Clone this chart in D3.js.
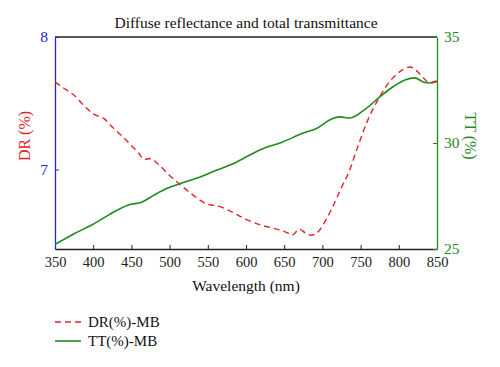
<!DOCTYPE html>
<html>
<head>
<meta charset="utf-8">
<script src="https://cdn.jsdelivr.net/npm/d3@7"></script>
<style>
  html, body { margin: 0; padding: 0; background: #fff; }
  svg text { font-family: "Liberation Serif", "DejaVu Serif", serif !important; }
</style>
</head>
<body>
<div id="chart"></div>
<script>
// ── Data ────────────────────────────────────────────────────────
const drWavelength = [350, 360, 375, 390, 400, 415, 425, 440, 450, 460, 467, 475, 485, 500, 515, 530, 550, 565, 580, 600, 620, 640, 655, 660, 670, 678, 685, 695, 705, 715, 725, 735, 745, 758, 775, 790, 805, 815, 822, 832, 840, 845, 850];
const drValues = [7.66, 7.62, 7.56, 7.47, 7.42, 7.38, 7.32, 7.24, 7.18, 7.12, 7.075, 7.083, 7.04, 6.955, 6.88, 6.81, 6.737, 6.722, 6.684, 6.624, 6.58, 6.55, 6.52, 6.504, 6.549, 6.52, 6.504, 6.534, 6.624, 6.737, 6.865, 6.985, 7.15, 7.353, 7.549, 7.677, 7.752, 7.774, 7.752, 7.692, 7.654, 7.66, 7.669];

const ttWavelength = [350, 360, 375, 398, 420, 446, 464, 480, 496, 516, 540, 562, 579, 605, 618, 648, 675, 693, 712, 723, 736, 758, 775, 792, 808, 821, 832, 841, 850];
const ttValues = [25.22, 25.42, 25.72, 26.13, 26.6, 27.08, 27.22, 27.55, 27.85, 28.11, 28.4, 28.73, 28.96, 29.43, 29.67, 30.05, 30.47, 30.7, 31.13, 31.23, 31.18, 31.65, 32.17, 32.64, 32.97, 33.07, 32.88, 32.83, 32.9];

const xTicks = [350, 400, 450, 500, 550, 600, 650, 700, 750, 800, 850];
const drTicks = [7, 8];
const ttTicks = [25, 30, 35];

const W = 500, H = 367;
const margin = { top: 37, right: 63, bottom: 118, left: 55 };
const w = W - margin.left - margin.right;
const h = H - margin.top - margin.bottom;

const RED = '#e0252b', GREEN = '#1f8a1f', BLUE = '#2323d8';

const svg = d3.select('#chart').append('svg')
    .attr('width', W).attr('height', H);

const g = svg.append('g')
    .attr('transform', `translate(${margin.left},${margin.top})`);

const x = d3.scaleLinear().domain([350, 850]).range([0, w]);
const yL = d3.scaleLinear().domain([6.4, 8]).range([h, 0]);
const yR = d3.scaleLinear().domain([25, 35]).range([h, 0]);

// ── Frame / axes ────────────────────────────────────────────────
g.append('line').attr('x1', 0).attr('x2', w).attr('y1', 0).attr('y2', 0)
    .attr('stroke', '#222').attr('stroke-width', 1.3);

const xAxis = g.append('g')
    .attr('transform', `translate(0,${h})`)
    .call(d3.axisBottom(x).tickValues(xTicks).tickSizeInner(-4).tickSizeOuter(0).tickPadding(8));
xAxis.select('.domain').attr('stroke', '#222').attr('stroke-width', 1.3);
xAxis.selectAll('.tick line').attr('stroke', '#222');
xAxis.selectAll('text').attr('font-size', 14.5).attr('fill', '#222');

const lAxis = g.append('g')
    .call(d3.axisLeft(yL).tickValues(drTicks).tickFormat(d3.format('d'))
        .tickSizeInner(-4).tickSizeOuter(0).tickPadding(7));
lAxis.select('.domain').attr('stroke', BLUE).attr('stroke-width', 1.3);
lAxis.selectAll('.tick line').attr('stroke', BLUE);
lAxis.selectAll('text').attr('font-size', 15.5).attr('fill', BLUE);

const rAxis = g.append('g')
    .attr('transform', `translate(${w},0)`)
    .call(d3.axisRight(yR).tickValues(ttTicks).tickFormat(d3.format('d'))
        .tickSizeInner(-4).tickSizeOuter(0).tickPadding(7));
rAxis.select('.domain').attr('stroke', GREEN).attr('stroke-width', 1.3);
rAxis.selectAll('.tick line').attr('stroke', GREEN);
rAxis.selectAll('text').attr('font-size', 15.5).attr('fill', GREEN);

// ── Series ──────────────────────────────────────────────────────
const drLine = d3.line()
    .x((d, i) => x(drWavelength[i]))
    .y(d => yL(d))
    .curve(d3.curveMonotoneX);

const ttLine = d3.line()
    .x((d, i) => x(ttWavelength[i]))
    .y(d => yR(d))
    .curve(d3.curveMonotoneX);

g.append('path').datum(ttValues)
    .attr('d', ttLine)
    .attr('fill', 'none').attr('stroke', GREEN).attr('stroke-width', 1.6);

g.append('path').datum(drValues)
    .attr('d', drLine)
    .attr('fill', 'none').attr('stroke', RED).attr('stroke-width', 1.4)
    .attr('stroke-dasharray', '6,4');

// ── Text ────────────────────────────────────────────────────────
svg.append('text')
    .attr('x', margin.left + w / 2).attr('y', 28)
    .attr('text-anchor', 'middle').attr('font-size', 15.5).attr('fill', '#111')
    .text('Diffuse reflectance and total transmittance');

svg.append('text')
    .attr('x', margin.left + w / 2).attr('y', 291)
    .attr('text-anchor', 'middle').attr('font-size', 15.5).attr('fill', '#111')
    .text('Wavelength (nm)');

svg.append('text')
    .attr('transform', `translate(30,${margin.top + h / 2 - 7}) rotate(-90)`)
    .attr('text-anchor', 'middle').attr('font-size', 16).attr('fill', RED)
    .text('DR (%)');

svg.append('text')
    .attr('transform', `translate(465,${margin.top + h / 2 - 7}) rotate(90)`)
    .attr('text-anchor', 'middle').attr('font-size', 16).attr('fill', GREEN)
    .text('TT (%)');

// ── Legend ──────────────────────────────────────────────────────
const legend = svg.append('g').attr('transform', 'translate(55,322)');
legend.append('line').attr('x1', 0).attr('x2', 26).attr('y1', 0).attr('y2', 0)
    .attr('stroke', RED).attr('stroke-width', 1.4).attr('stroke-dasharray', '6,4');
legend.append('text').attr('x', 33).attr('y', 5).attr('font-size', 15).attr('fill', '#111')
    .text('DR(%)-MB');
legend.append('line').attr('x1', 0).attr('x2', 26).attr('y1', 19).attr('y2', 19)
    .attr('stroke', GREEN).attr('stroke-width', 1.6);
legend.append('text').attr('x', 33).attr('y', 24).attr('font-size', 15).attr('fill', '#111')
    .text('TT(%)-MB');
</script>
</body>
</html>
